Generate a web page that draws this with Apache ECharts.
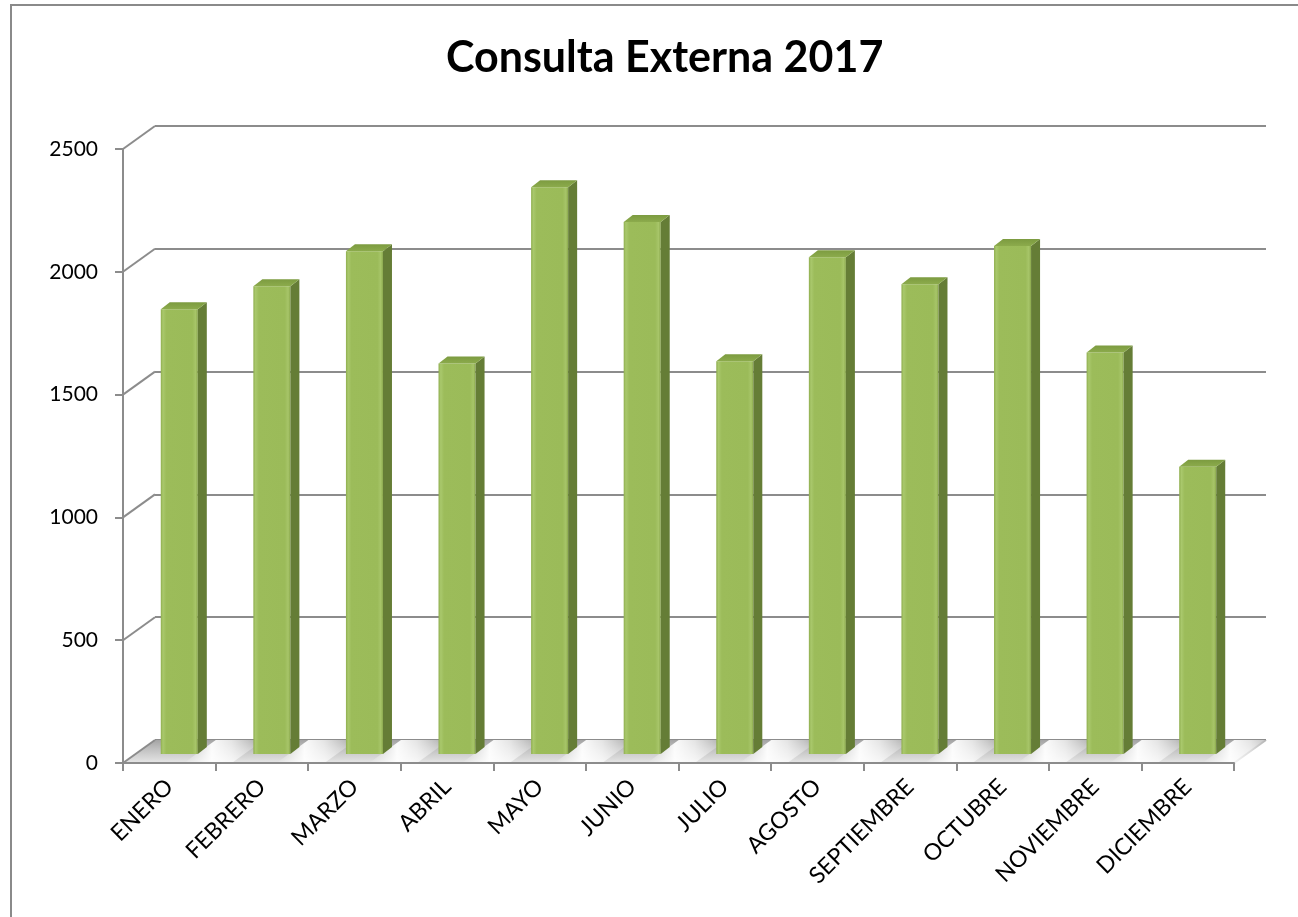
<!DOCTYPE html>
<html>
<head>
<meta charset="utf-8">
<script src="https://cdn.jsdelivr.net/npm/echarts@6/dist/echarts.min.js"></script>
<style>
html,body{margin:0;padding:0;background:#fff;}
#chart{width:1298px;height:917px;}
</style>
</head>
<body>
<div id="chart"></div>
<script>
// ---- data ----
const titleText = 'Consulta Externa 2017';
const categories = ['ENERO','FEBRERO','MARZO','ABRIL','MAYO','JUNIO','JULIO','AGOSTO','SEPTIEMBRE','OCTUBRE','NOVIEMBRE','DICIEMBRE'];
const values = [1811, 1905, 2047, 1590, 2308, 2166, 1599, 2023, 1913, 2068, 1635, 1170];
const yTicks = [0, 500, 1000, 1500, 2000, 2500];

// ---- layout (pixels) ----
const W = 1298, H = 917;
const FRONT = {left: 123, right: 1234, top: 149, bottom: 763};
const DX = 32, DY = -23;           // depth of the 3D box
const BAR_FX = 10, BAR_FY = -9;    // front face offset of bars inside the box
const BAR_SX = 9, BAR_SY = -7;     // bar depth
const BAR_W = 0.40;                // front face width as share of band
const FONT = 'Lato, "Open Sans", sans-serif';
const GRID_COLOR = '#8c8c8c';

const chart = echarts.init(document.getElementById('chart'), null, {renderer: 'canvas'});

function renderDiag(params, api) {
  const p = api.coord([0, api.value(1)]);
  const left = p[0] - api.size([1, 0])[0] / 2;
  return {
    type: 'line',
    shape: {x1: left, y1: p[1], x2: left + DX, y2: p[1] + DY},
    style: {stroke: GRID_COLOR, lineWidth: 2}
  };
}

function renderFloor(params, api) {
  const a = api.coord([0, 0]);
  const b = api.coord([categories.length - 1, 0]);
  const half = api.size([1, 0])[0] / 2;
  const x0 = a[0] - half, x1 = b[0] + half, y = a[1];
  return {
    type: 'group',
    children: [
      {
        type: 'polygon',
        shape: {points: [[x0, y], [x1, y], [x1 + DX, y + DY], [x0 + DX, y + DY]]},
        style: {
          fill: new echarts.graphic.LinearGradient(0, 0, 0, 1, [
            {offset: 0, color: '#a4a4a4'},
            {offset: 0.45, color: '#c4c4c4'},
            {offset: 1, color: '#e6e6e6'}
          ])
        }
      },
      {
        type: 'line',
        shape: {x1: x1, y1: y, x2: x1 + DX, y2: y + DY},
        style: {stroke: GRID_COLOR, lineWidth: 2}
      }
    ]
  };
}

function renderBar(params, api) {
  const i = api.value(0);
  const base = api.coord([i, 0]);
  const top = api.coord([i, api.value(1)]);
  const bw = api.size([1, 0])[0];
  const fw = bw * BAR_W;
  const xl = base[0] + BAR_FX - fw / 2;
  const xr = xl + fw;
  const yb = base[1] + BAR_FY;
  const yt = top[1] + BAR_FY;
  const fy = base[1];            // floor front edge
  const by = base[1] + DY;       // floor back edge
  const k = DX / DY;             // x shift per y along depth
  const sx0 = xr + (fy - yb) * 0;    // patch at bar right
  const pw = 48;
  return {
    type: 'group',
    children: [
      { // light patch on floor to the right of the bar
        type: 'polygon',
        shape: {points: [
          [xr - (fy - yb) * -k * 0 - 14, fy],
          [xr - 14 + pw, fy],
          [xr - 14 + pw + DX, by],
          [xr - 14 + DX, by]
        ]},
        style: {
          fill: new echarts.graphic.LinearGradient(0, 0, 1, 0, [
            {offset: 0, color: 'rgba(255,255,255,0)'},
            {offset: 0.35, color: 'rgba(255,255,255,0.95)'},
            {offset: 0.6, color: 'rgba(255,255,255,0.7)'},
            {offset: 1, color: 'rgba(255,255,255,0)'}
          ])
        }
      },
      {
        type: 'rect',
        shape: {x: xl, y: yt, width: fw, height: yb - yt},
        style: {
          fill: new echarts.graphic.LinearGradient(0, 0, 1, 0, [
            {offset: 0, color: '#8fae4e'},
            {offset: 0.06, color: '#a9c86c'},
            {offset: 0.15, color: '#9cbc5a'},
            {offset: 0.85, color: '#9bbb59'},
            {offset: 0.94, color: '#a7c569'},
            {offset: 1, color: '#8aa84b'}
          ])
        }
      },
      {
        type: 'polygon',
        shape: {points: [[xr, yt], [xr + BAR_SX, yt + BAR_SY], [xr + BAR_SX, yb + BAR_SY], [xr, yb]]},
        style: {fill: '#657d36'}
      },
      {
        type: 'polygon',
        shape: {points: [[xl, yt], [xr, yt], [xr + BAR_SX, yt + BAR_SY], [xl + BAR_SX, yt + BAR_SY]]},
        style: {
          fill: new echarts.graphic.LinearGradient(0, 0, 0, 1, [
            {offset: 0, color: '#7c9b40'},
            {offset: 1, color: '#8cab4c'}
          ])
        }
      }
    ]
  };
}

const option = {
  animation: false,
  backgroundColor: '#ffffff',
  title: {
    text: titleText,
    left: 441,
    top: 32,
    textStyle: {fontFamily: FONT, fontSize: 43, fontWeight: 'bold', color: '#000'}
  },
  graphic: [
    {
      type: 'rect',
      shape: {x: 11, y: 5, width: W + 20, height: H + 20},
      style: {fill: 'none', stroke: '#8a8a8a', lineWidth: 2},
      silent: true,
      z: -10
    }
  ],
  grid: [
    {left: FRONT.left, right: W - FRONT.right, top: FRONT.top, bottom: H - FRONT.bottom, containLabel: false},
    {left: FRONT.left + DX, right: W - FRONT.right - DX, top: FRONT.top + DY, bottom: H - FRONT.bottom - DY, containLabel: false}
  ],
  xAxis: [
    {
      type: 'category',
      gridIndex: 0,
      data: categories,
      boundaryGap: true,
      axisLine: {show: true, lineStyle: {color: GRID_COLOR, width: 2}},
      axisTick: {show: true, length: 8, interval: 0, lineStyle: {color: GRID_COLOR, width: 2}},
      axisLabel: {interval: 0, rotate: 45, margin: 20, color: '#000', fontFamily: FONT, fontSize: 23},
      splitLine: {show: false},
      z: 5
    },
    {
      type: 'category',
      gridIndex: 1,
      data: categories,
      show: false
    }
  ],
  yAxis: [
    {
      type: 'value',
      gridIndex: 0,
      min: 0, max: 2500, interval: 500,
      axisLine: {show: true, lineStyle: {color: GRID_COLOR, width: 2}},
      axisTick: {show: true, length: 8, lineStyle: {color: GRID_COLOR, width: 2}},
      axisLabel: {margin: 25, color: '#000', fontFamily: FONT, fontSize: 21, formatter: v => String(v)},
      splitLine: {show: false},
      z: 5
    },
    {
      type: 'value',
      gridIndex: 1,
      min: 0, max: 2500, interval: 500,
      axisLine: {show: false},
      axisTick: {show: false},
      axisLabel: {show: false},
      splitLine: {show: true, lineStyle: {color: GRID_COLOR, width: 2}}
    }
  ],
  series: [
    {
      type: 'custom',
      name: 'floor',
      xAxisIndex: 0, yAxisIndex: 0,
      data: [[0, 0]],
      renderItem: renderFloor,
      clip: false,
      silent: true,
      z: 1
    },
    {
      type: 'custom',
      name: 'walls',
      xAxisIndex: 0, yAxisIndex: 0,
      data: yTicks.map(v => [0, v]),
      renderItem: renderDiag,
      clip: false,
      silent: true,
      z: 2
    },
    {
      type: 'custom',
      name: 'Consulta Externa',
      xAxisIndex: 0, yAxisIndex: 0,
      data: values.map((v, i) => [i, v]),
      encode: {x: 0, y: 1},
      renderItem: renderBar,
      clip: false,
      z: 3
    }
  ]
};
chart.setOption(option);
</script>
</body>
</html>
